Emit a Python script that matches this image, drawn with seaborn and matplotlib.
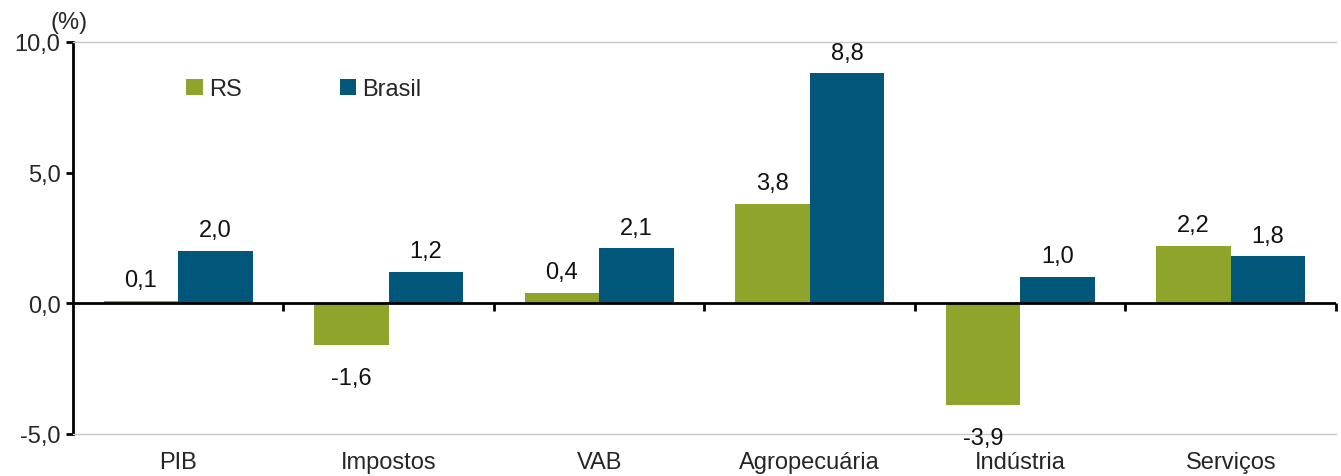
import pandas as pd
import seaborn as sns
import matplotlib.pyplot as plt
from matplotlib.ticker import FuncFormatter

categories = ["PIB", "Impostos", "VAB", "Agropecuária", "Indústria", "Serviços"]
rs_values = [0.1, -1.6, 0.4, 3.8, -3.9, 2.2]
brasil_values = [2.0, 1.2, 2.1, 8.8, 1.0, 1.8]
series_names = ["RS", "Brasil"]
colors = {"RS": "#8FA42A", "Brasil": "#005779"}

df = pd.DataFrame({
    "categoria": categories * 2,
    "serie": ["RS"] * len(categories) + ["Brasil"] * len(categories),
    "valor": rs_values + brasil_values,
})

sns.set_style("white")
plt.rcParams["font.family"] = ["Liberation Sans", "DejaVu Sans"]
fs = 17

fig = plt.figure(figsize=(13.41, 4.77), dpi=100)
ax = fig.add_axes([73 / 1341, 42 / 477, 1263 / 1341, 392 / 477])

sns.barplot(data=df, x="categoria", y="valor", hue="serie", hue_order=series_names,
            palette=colors, width=0.71, saturation=1, linewidth=0, ax=ax, legend=True)

# value labels, comma decimals; negatives sit a bit further below
for container in ax.containers:
    vals = container.datavalues
    pos = [f"{v:.1f}".replace(".", ",") if v >= 0 else "" for v in vals]
    neg = [f"{v:.1f}".replace(".", ",") if v < 0 else "" for v in vals]
    ax.bar_label(container, labels=pos, padding=7, fontsize=fs, color="#111111")
    ax.bar_label(container, labels=neg, padding=16, fontsize=fs, color="#111111")

ax.set_ylim(-5, 10)
ax.set_xlim(-0.5, len(categories) - 0.5)
ax.set_yticks([-5, 0, 5, 10])
ax.yaxis.set_major_formatter(FuncFormatter(lambda v, p: f"{v:.1f}".replace(".", ",")))
ax.set_xlabel("")
ax.set_ylabel("")

ax.tick_params(axis="y", direction="out", length=5, width=2, color="black",
               labelsize=fs, left=True, pad=4)
ax.tick_params(axis="x", length=0, labelsize=fs, pad=12)

for side in ["top", "bottom"]:
    ax.spines[side].set_color("#c8c8c8")
    ax.spines[side].set_linewidth(1)
ax.spines["right"].set_visible(False)
ax.spines["left"].set_color("black")
ax.spines["left"].set_linewidth(2)

ax.axhline(0, color="black", lw=2, zorder=5)
zero_axis = ax.secondary_xaxis(1 / 3)
zero_axis.set_xticks([i + 0.5 for i in range(len(categories))])
zero_axis.set_xticklabels([])
zero_axis.tick_params(direction="out", length=6, width=2, color="black")
zero_axis.spines["bottom"].set_visible(False)

ax.text(-0.018, 1.035, "(%)", transform=ax.transAxes, fontsize=fs)

handles, labels = ax.get_legend_handles_labels()
ax.legend(handles, labels, loc="center left", bbox_to_anchor=(0.073, 0.88), ncol=2,
          frameon=False, fontsize=fs, handlelength=0.7, handleheight=0.7,
          handletextpad=0.25, columnspacing=4.15)

fig.savefig("out.png", dpi=100)
